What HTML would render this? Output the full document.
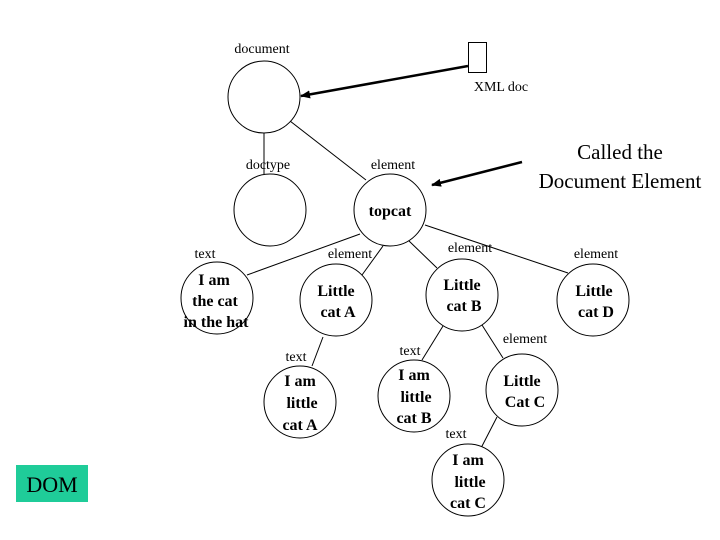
<!DOCTYPE html>
<html><head><meta charset="utf-8"><style>
html,body{margin:0;padding:0;background:#fff;}
svg{display:block;}
text{font-family:"Liberation Serif",serif;fill:#000;}
.s{font-size:14px;}
.b{font-size:16px;font-weight:bold;}
</style></head><body>
<svg width="720" height="540" viewBox="0 0 720 540" xmlns="http://www.w3.org/2000/svg">
<defs><marker id="ah" markerWidth="10" markerHeight="8" refX="9" refY="4" orient="auto" markerUnits="userSpaceOnUse"><path d="M0,0 L10,4 L0,8 z" fill="#000"/></marker></defs>
<g stroke="#000" stroke-width="1" fill="none">
<line x1="264" y1="133" x2="264" y2="174"/>
<line x1="290" y1="121" x2="366" y2="180"/>
<line x1="360" y1="234" x2="247" y2="275"/>
<line x1="383" y1="246" x2="362" y2="275"/>
<line x1="408" y1="240" x2="437" y2="268"/>
<line x1="425" y1="225" x2="568" y2="273"/>
<line x1="323" y1="337" x2="312" y2="366"/>
<line x1="443" y1="326" x2="422" y2="360"/>
<line x1="482" y1="325" x2="503" y2="358"/>
<line x1="497" y1="417" x2="480" y2="450"/>
<circle cx="264" cy="97" r="36" fill="#fff"/>
<circle cx="270" cy="210" r="36" fill="#fff"/>
<circle cx="390" cy="210" r="36" fill="#fff"/>
<circle cx="217" cy="298" r="36" fill="#fff"/>
<circle cx="336" cy="300" r="36" fill="#fff"/>
<circle cx="462" cy="295" r="36" fill="#fff"/>
<circle cx="593" cy="300" r="36" fill="#fff"/>
<circle cx="300" cy="402" r="36" fill="#fff"/>
<circle cx="414" cy="396" r="36" fill="#fff"/>
<circle cx="522" cy="390" r="36" fill="#fff"/>
<circle cx="468" cy="480" r="36" fill="#fff"/>
<rect x="468.5" y="42.5" width="18" height="30" fill="#fff"/>
</g>
<line x1="468" y1="66" x2="301" y2="96" stroke="#000" stroke-width="2.5" marker-end="url(#ah)"/>
<line x1="522" y1="162" x2="432" y2="185" stroke="#000" stroke-width="2.5" marker-end="url(#ah)"/>
<rect x="16" y="465" width="72" height="37" fill="#1fcc99"/>
<text x="52" y="492" text-anchor="middle" style="font-size:22px">DOM</text>
<text x="620" y="159" text-anchor="middle" style="font-size:21px">Called the</text>
<text x="620" y="188" text-anchor="middle" style="font-size:21px">Document Element</text>
<g class="s" text-anchor="middle">
<text x="262" y="53">document</text>
<text x="501" y="91">XML doc</text>
<text x="268" y="169">doctype</text>
<text x="393" y="169">element</text>
<text x="205" y="258">text</text>
<text x="350" y="258">element</text>
<text x="470" y="252">element</text>
<text x="596" y="258">element</text>
<text x="525" y="343">element</text>
<text x="296" y="361">text</text>
<text x="410" y="355">text</text>
<text x="456" y="438">text</text>
</g>
<g class="b" text-anchor="middle">
<text x="390" y="216">topcat</text>
<text x="214" y="285">I am</text><text x="215" y="306">the cat</text><text x="216" y="327">in the hat</text>
<text x="336" y="296">Little</text><text x="338" y="317">cat A</text>
<text x="462" y="290">Little</text><text x="464" y="311">cat B</text>
<text x="594" y="296">Little</text><text x="596" y="317">cat D</text>
<text x="300" y="386">I am</text><text x="302" y="408">little</text><text x="300" y="430">cat A</text>
<text x="414" y="380">I am</text><text x="416" y="402">little</text><text x="414" y="423">cat B</text>
<text x="522" y="386">Little</text><text x="525" y="407">Cat C</text>
<text x="468" y="465">I am</text><text x="470" y="487">little</text><text x="468" y="508">cat C</text>
</g>
</svg>
</body></html>
